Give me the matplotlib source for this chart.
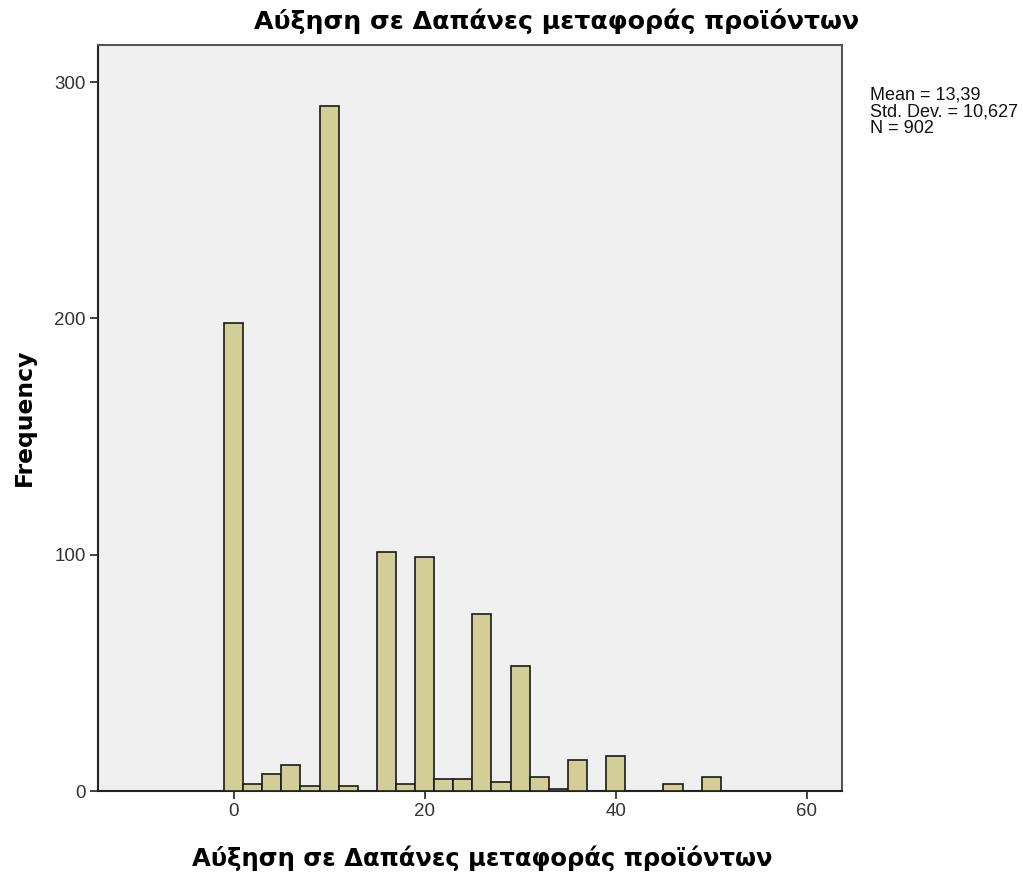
import matplotlib
matplotlib.use("Agg")
import matplotlib.pyplot as plt

plt.rcParams['font.family'] = ['Liberation Sans', 'DejaVu Sans']

bin_centers = [0, 2, 4, 6, 8, 10, 12, 16, 18, 20, 22, 24, 26, 28, 30, 32, 34, 36, 40, 46, 50]
frequencies = [198, 3, 7, 11, 2, 290, 2, 101, 3, 99, 5, 5, 75, 4, 53, 6, 1, 13, 15, 3, 6]
bin_width = 2
x_ticks = [0, 20, 40, 60]
y_ticks = [0, 100, 200, 300]
title = "Αύξηση σε Δαπάνες μεταφοράς προϊόντων"
x_label = "Αύξηση σε Δαπάνες μεταφοράς προϊόντων"
y_label = "Frequency"
stats_text = "Mean = 13,39\nStd. Dev. = 10,627\nN = 902"

fig = plt.figure(figsize=(10.23, 8.77), dpi=100)
ax = fig.add_axes([98/1023, 1-791/877, (842-98)/1023, (791-45)/877])
ax.set_facecolor('#F0F0F0')
ax.bar(bin_centers, frequencies, width=bin_width, color='#D3CE98',
       edgecolor='#1a1a1a', linewidth=1.2, zorder=3)
ax.set_xlim(-14.2, 63.7)
ax.set_ylim(0, 315.7)
ax.set_xticks(x_ticks)
ax.set_yticks(y_ticks)
ax.tick_params(direction='out', length=6, width=1.2, colors='#222222',
               labelsize=13.5, labelcolor='#333333', pad=3)
for s in ['left', 'bottom']:
    ax.spines[s].set_linewidth(1.5)
    ax.spines[s].set_color('#222222')
for s in ['top', 'right']:
    ax.spines[s].set_linewidth(1.5)
    ax.spines[s].set_color('#555555')

bold_font = ['DejaVu Sans']
fig.text(557/1023, 1-21/877, title, fontsize=18.2, fontweight='bold',
         ha='center', va='center', family=bold_font)
fig.text(482/1023, 1-858/877, x_label, fontsize=17.5, fontweight='bold',
         ha='center', va='center', family=bold_font)
fig.text(24/1023, 1-417/877, y_label, fontsize=16.9, fontweight='bold',
         ha='center', va='center', rotation=90, family=bold_font)
fig.text(870/1023, 1-87/877, stats_text, fontsize=13, va='top', ha='left',
         linespacing=0.95, color='#111111')
fig.savefig('out.png', dpi=100)
